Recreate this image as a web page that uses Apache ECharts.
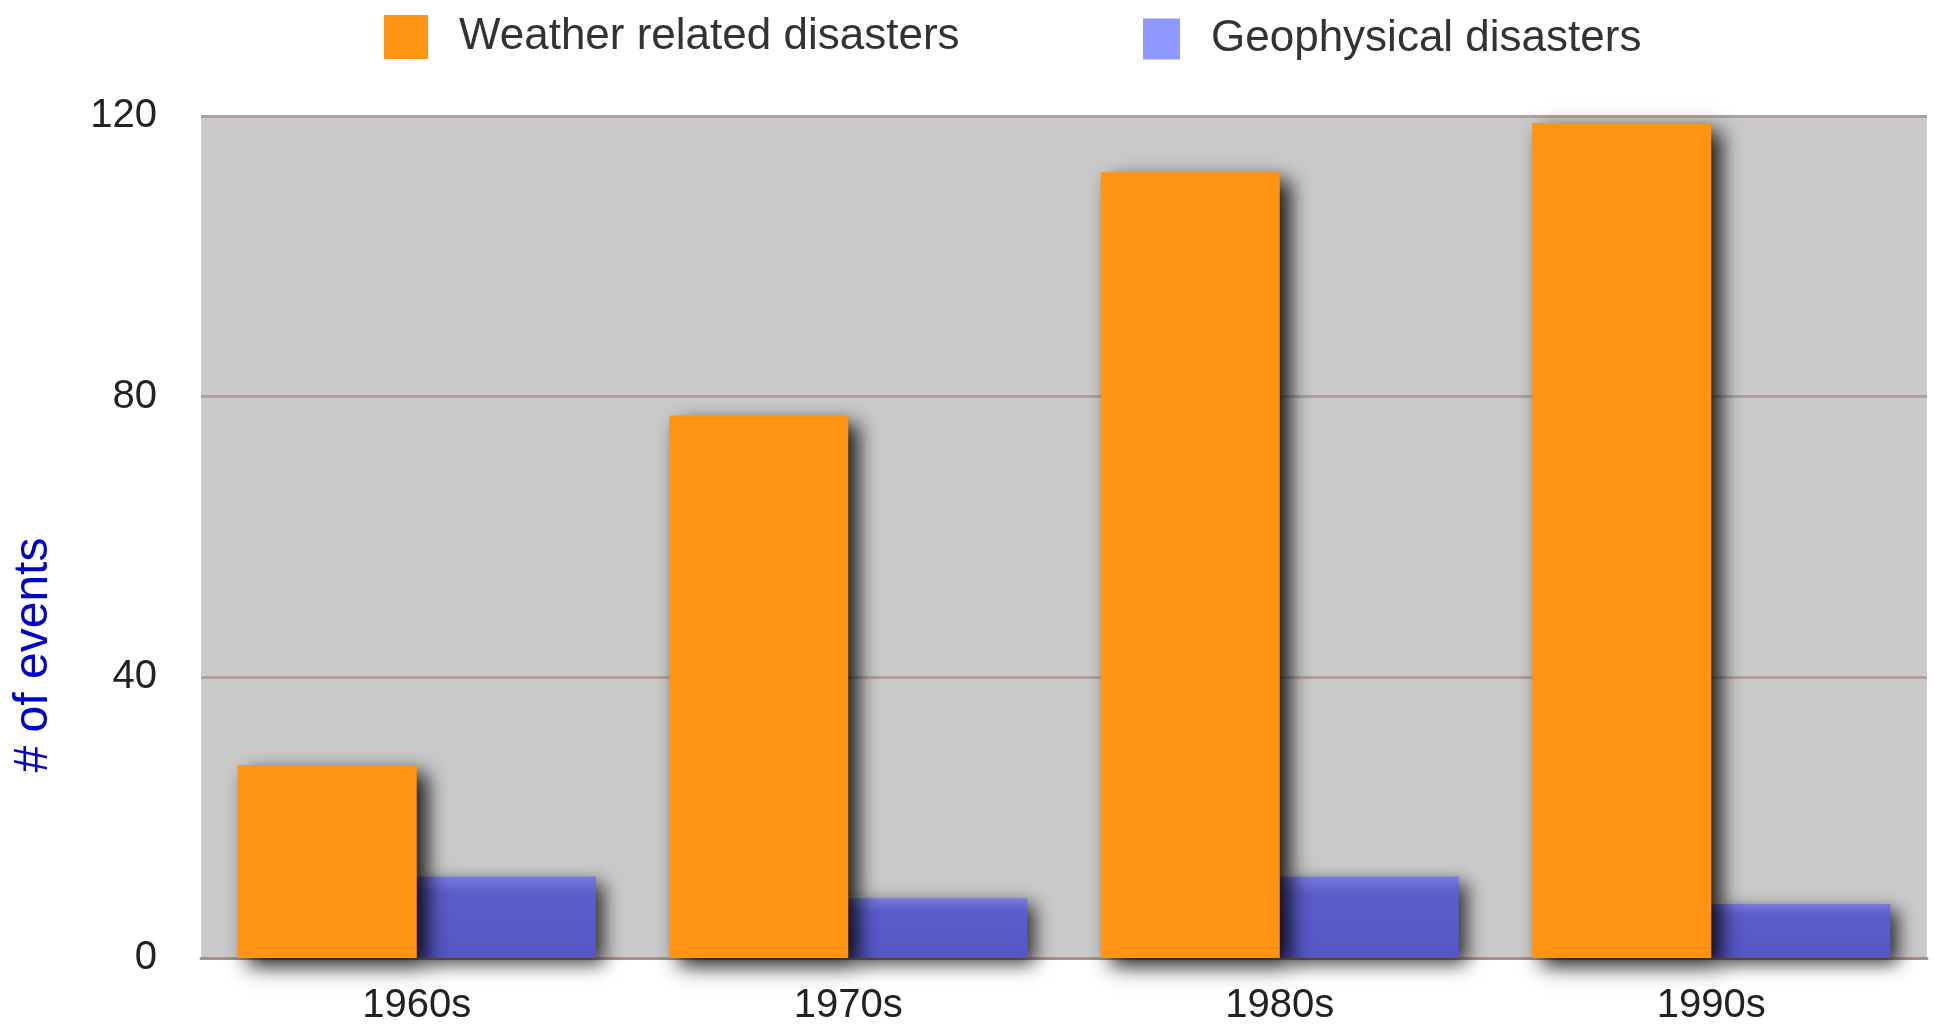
<!DOCTYPE html>
<html>
<head>
<meta charset="utf-8">
<title>Disasters by decade</title>
<script src="https://cdn.jsdelivr.net/npm/echarts@6/dist/echarts.min.js"></script>
<style>
    html, body { margin: 0; padding: 0; background: #fff; }
    #disasterChart { width: 1934px; height: 1029px; }
</style>
</head>
<body>
<div id="disasterChart"></div>
<script>
// 数据
const decades = ['1960s', '1970s', '1980s', '1990s'];
const weatherEvents = [27.5, 77.3, 112, 119];
const geoEvents = [11.6, 8.5, 11.6, 7.7];
const yTicks = [0, 40, 80, 120];

document.addEventListener('DOMContentLoaded', function () {
    initDisasterChart();
});

function initDisasterChart() {
    const chartDom = document.getElementById('disasterChart');
    if (!chartDom) return;

    const myChart = echarts.init(chartDom);
    const fontFamily = 'Liberation Sans, Arial, sans-serif';

    const legendText = {
        color: '#333',
        fontSize: 44,
        fontFamily: fontFamily,
        padding: [0, 0, 0, 26]
    };

    const option = {
        backgroundColor: '#fff',
        animation: false,
        legend: [
            {
                left: 379,
                top: 10,
                itemWidth: 44,
                itemHeight: 44,
                itemGap: 0,
                icon: 'rect',
                textStyle: legendText,
                data: [{
                    name: 'Weather related disasters',
                    itemStyle: { color: '#ff9412', shadowBlur: 0, shadowColor: 'transparent' }
                }]
            },
            {
                left: 1138,
                top: 12,
                itemWidth: 37,
                itemHeight: 41,
                itemGap: 0,
                icon: 'rect',
                textStyle: legendText,
                data: [{
                    name: 'Geophysical disasters',
                    itemStyle: { color: '#8f98ff', shadowBlur: 0, shadowColor: 'transparent' }
                }]
            }
        ],
        grid: {
            left: 201,
            right: 7,
            top: 116,
            bottom: 71,
            show: true,
            backgroundColor: '#cacaca',
            borderWidth: 0
        },
        xAxis: {
            type: 'category',
            data: decades,
            axisTick: { show: false },
            axisLine: {
                show: true,
                lineStyle: { color: '#a89088', width: 3 }
            },
            axisLabel: {
                color: '#222',
                fontSize: 40,
                fontFamily: fontFamily,
                margin: 28
            }
        },
        yAxis: {
            type: 'value',
            min: yTicks[0],
            max: yTicks[yTicks.length - 1],
            interval: 40,
            name: '# of events',
            nameLocation: 'middle',
            nameGap: 143,
            nameTextStyle: {
                color: '#0000cc',
                fontSize: 48,
                fontFamily: fontFamily,
                padding: [0, 236, 0, 0]
            },
            axisLine: { show: false },
            axisTick: { show: false },
            axisLabel: {
                color: '#222',
                fontSize: 40,
                fontFamily: fontFamily,
                margin: 44
            },
            splitLine: {
                show: true,
                lineStyle: { color: '#b3a199', width: 3 }
            }
        },
        series: [
            {
                name: 'Weather related disasters',
                type: 'bar',
                data: weatherEvents,
                barGap: '0%',
                barCategoryGap: '17%',
                z: 3,
                itemStyle: {
                    color: '#ff9412',
                    shadowColor: 'rgba(0, 0, 0, 0.9)',
                    shadowBlur: 20,
                    shadowOffsetX: 10,
                    shadowOffsetY: 8
                }
            },
            {
                name: 'Geophysical disasters',
                type: 'bar',
                data: geoEvents,
                barGap: '0%',
                barCategoryGap: '17%',
                z: 2,
                itemStyle: {
                    color: {
                        type: 'linear',
                        x: 0, y: 0, x2: 0, y2: 1,
                        colorStops: [
                            { offset: 0, color: '#7a7ae0' },
                            { offset: 0.2, color: '#5d5dcc' },
                            { offset: 1, color: '#5656c6' }
                        ]
                    },
                    shadowColor: 'rgba(0, 0, 0, 0.75)',
                    shadowBlur: 18,
                    shadowOffsetX: 8,
                    shadowOffsetY: 6
                }
            }
        ]
    };

    myChart.setOption(option);

    // 响应窗口大小变化
    window.addEventListener('resize', function () {
        myChart.resize();
    });
}
</script>
</body>
</html>
